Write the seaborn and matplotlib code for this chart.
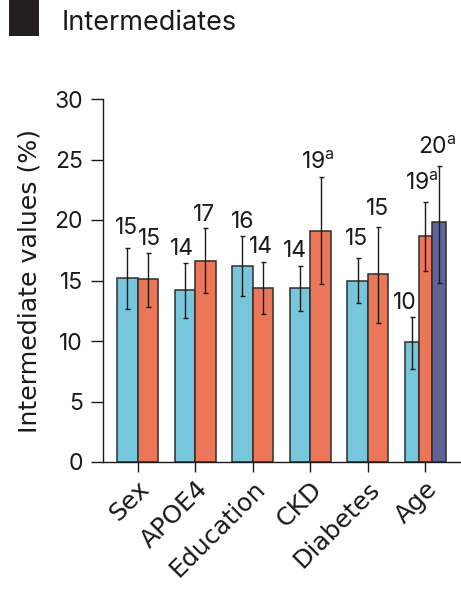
import matplotlib
matplotlib.use("Agg")
import matplotlib.pyplot as plt
import seaborn as sns
import pandas as pd
import numpy as np
from matplotlib.patches import Rectangle

# ---- data ----
categories = ["Sex", "APOE4", "Education", "CKD", "Diabetes", "Age"]
groups = ["g1", "g2", "g3"]
bar_category = ["Sex", "Sex", "APOE4", "APOE4", "Education", "Education",
                "CKD", "CKD", "Diabetes", "Diabetes", "Age", "Age", "Age"]
bar_group = ["g1", "g2", "g1", "g2", "g1", "g2", "g1", "g2", "g1", "g2", "g1", "g2", "g3"]
bar_values = [15.2, 15.1, 14.2, 16.6, 16.2, 14.4, 14.4, 19.1, 15.0, 15.5, 9.9, 18.7, 19.8]
err_low = [12.65, 12.8, 11.9, 14.0, 13.7, 12.2, 12.45, 14.7, 13.1, 11.5, 7.7, 15.8, 14.8]
err_high = [17.65, 17.3, 16.45, 19.35, 18.7, 16.55, 16.2, 23.55, 16.9, 19.45, 11.95, 21.5, 24.5]
bar_labels = ["15", "15", "14", "17", "16", "14", "14", "19$^{\\mathrm{a}}$",
              "15", "15", "10", "19$^{\\mathrm{a}}$", "20$^{\\mathrm{a}}$"]
y_ticks = [0, 5, 10, 15, 20, 25, 30]
title = "Intermediates"
y_label = "Intermediate values (%)"

# ---- style ----
colors = {"g1": "#77C6DC", "g2": "#EC7658", "g3": "#5E6596"}
label_dx = [-1, 2, -3, -1, 0, -2, -5, -3, -1, -1, -7, -4, -2]   # px
label_gap = [9, 3, 3, 2, 3, 4, 4, 3, 8, 7, 3, 7, 7]            # px
TXT = "#1a1a1a"
LETTER_FONT = ["DejaVu Sans"]
NUM_FONT = ["Inter", "DejaVu Sans"]

sns.set_theme(style="ticks")
plt.rcParams["font.family"] = NUM_FONT
plt.rcParams["mathtext.fontset"] = "custom"
plt.rcParams["mathtext.rm"] = "Inter"
plt.rcParams["mathtext.it"] = "Inter"

df = pd.DataFrame({"category": bar_category, "group": bar_group, "value": bar_values})

fig = plt.figure(figsize=(4.61, 5.90), dpi=100)
ax = fig.add_axes([103 / 461, 128 / 590, 357 / 461, 363 / 590])

two = df[df["category"] != "Age"]
three = df[df["category"] == "Age"]
common = dict(x="category", y="value", hue="group", order=categories, palette=colors,
              width=0.715, dodge=True, saturation=1, edgecolor="#2e2e2e", linewidth=1.1,
              errorbar=None, ax=ax, legend=False)
sns.barplot(data=two, hue_order=["g1", "g2"], **common)
sns.barplot(data=three, hue_order=["g1", "g2", "g3"], **common)

patches = [p for p in ax.patches if p.get_height() > 0]
patches.sort(key=lambda p: p.get_x())
centers = [p.get_x() + p.get_width() / 2 for p in patches]

vals = np.array(bar_values)
ax.errorbar(centers, vals, yerr=[vals - np.array(err_low), np.array(err_high) - vals],
            fmt="none", ecolor=TXT, elinewidth=1.0, capsize=1.8, capthick=1.0)

for c, top, lab, dx, gap in zip(centers, err_high, bar_labels, label_dx, label_gap):
    ax.annotate(lab, xy=(c, top), xytext=(dx * 0.72, gap * 0.72), textcoords="offset points",
                ha="center", va="bottom", fontsize=16.5, color=TXT)

ax.set_xlim(-0.6, 5.6)
ax.set_ylim(0, 30)
ax.set_yticks(y_ticks)
ax.set_xlabel("")
ax.set_ylabel(y_label, fontsize=18.2, color=TXT, family=LETTER_FONT)
ax.yaxis.set_label_coords(-0.171, 0.5)
ax.tick_params(axis="y", length=8.5, width=1.0, colors=TXT, labelsize=16.5, pad=6)
ax.tick_params(axis="x", length=7.5, width=1.0, colors=TXT, labelsize=18, pad=3)
for lab in ax.get_xticklabels():
    lab.set_rotation(45)
    lab.set_ha("right")
    lab.set_rotation_mode("anchor")
    lab.set_family(LETTER_FONT)
sns.despine(ax=ax)
for s in ("left", "bottom"):
    ax.spines[s].set_color(TXT)
    ax.spines[s].set_linewidth(1.0)

# title block
fig.patches.append(Rectangle((9 / 461, 1 - 36 / 590), 30 / 461, 36 / 590,
                             transform=fig.transFigure, facecolor="#231f20", edgecolor="none"))
fig.text(62 / 461, 1 - 29.5 / 590, title, fontsize=19.5, va="baseline", ha="left", color=TXT)

fig.savefig("out.png", dpi=100, facecolor="white")
